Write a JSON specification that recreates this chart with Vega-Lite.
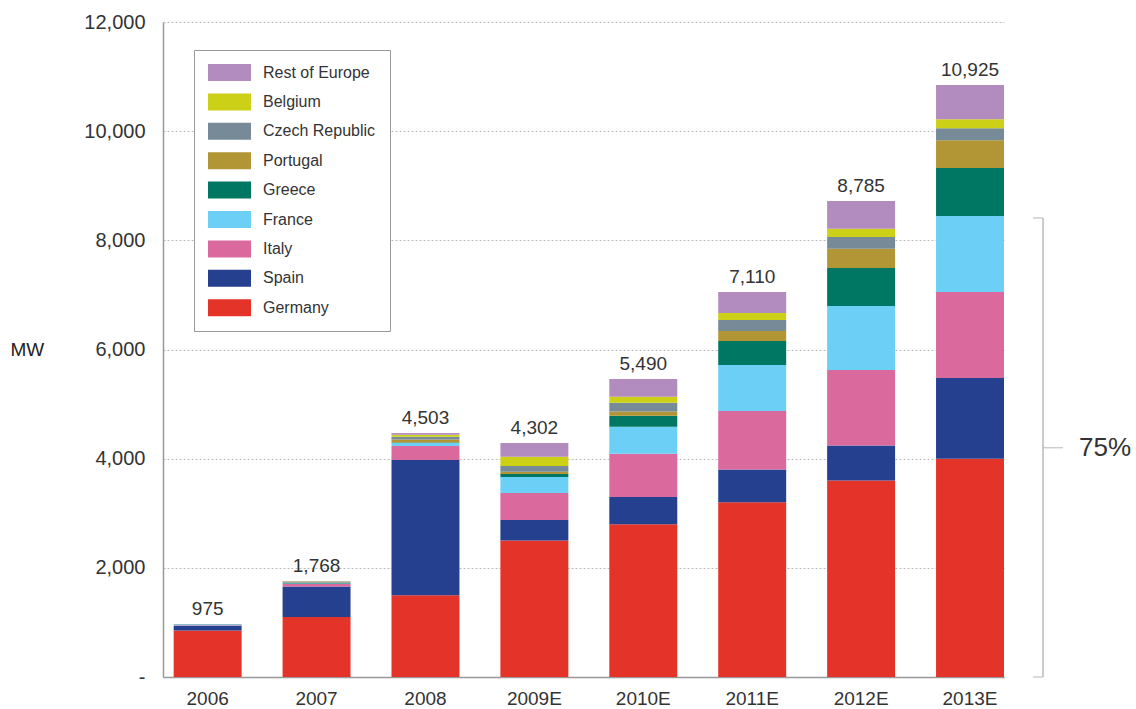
{
  "$schema": "https://vega.github.io/schema/vega-lite/v6.json",
  "width": 841,
  "height": 655,
  "autosize": {"type": "none"},
  "padding": {"left": 163, "top": 22, "right": 132, "bottom": 32},
  "background": "white",
  "config": {
    "view": {"stroke": null},
    "font": "Liberation Sans",
    "text": {"font": "Liberation Sans"}
  },
  "datasets": {
    "mw": [
      {"year": "2006", "country": "Germany", "mw": 850},
      {"year": "2006", "country": "Spain", "mw": 88},
      {"year": "2006", "country": "Italy", "mw": 10},
      {"year": "2006", "country": "France", "mw": 15},
      {"year": "2006", "country": "Greece", "mw": 2},
      {"year": "2006", "country": "Portugal", "mw": 0},
      {"year": "2006", "country": "Czech Republic", "mw": 0},
      {"year": "2006", "country": "Belgium", "mw": 2},
      {"year": "2006", "country": "Rest of Europe", "mw": 6},
      {"year": "2007", "country": "Germany", "mw": 1100},
      {"year": "2007", "country": "Spain", "mw": 560},
      {"year": "2007", "country": "Italy", "mw": 45},
      {"year": "2007", "country": "France", "mw": 10},
      {"year": "2007", "country": "Greece", "mw": 5},
      {"year": "2007", "country": "Portugal", "mw": 10},
      {"year": "2007", "country": "Czech Republic", "mw": 18},
      {"year": "2007", "country": "Belgium", "mw": 5},
      {"year": "2007", "country": "Rest of Europe", "mw": 6},
      {"year": "2008", "country": "Germany", "mw": 1500},
      {"year": "2008", "country": "Spain", "mw": 2475},
      {"year": "2008", "country": "Italy", "mw": 255},
      {"year": "2008", "country": "France", "mw": 55},
      {"year": "2008", "country": "Greece", "mw": 10},
      {"year": "2008", "country": "Portugal", "mw": 55},
      {"year": "2008", "country": "Czech Republic", "mw": 50},
      {"year": "2008", "country": "Belgium", "mw": 40},
      {"year": "2008", "country": "Rest of Europe", "mw": 32},
      {"year": "2009E", "country": "Germany", "mw": 2500},
      {"year": "2009E", "country": "Spain", "mw": 375},
      {"year": "2009E", "country": "Italy", "mw": 495},
      {"year": "2009E", "country": "France", "mw": 295},
      {"year": "2009E", "country": "Greece", "mw": 55},
      {"year": "2009E", "country": "Portugal", "mw": 40},
      {"year": "2009E", "country": "Czech Republic", "mw": 105},
      {"year": "2009E", "country": "Belgium", "mw": 170},
      {"year": "2009E", "country": "Rest of Europe", "mw": 252},
      {"year": "2010E", "country": "Germany", "mw": 2800},
      {"year": "2010E", "country": "Spain", "mw": 500},
      {"year": "2010E", "country": "Italy", "mw": 790},
      {"year": "2010E", "country": "France", "mw": 494},
      {"year": "2010E", "country": "Greece", "mw": 202},
      {"year": "2010E", "country": "Portugal", "mw": 79},
      {"year": "2010E", "country": "Czech Republic", "mw": 159},
      {"year": "2010E", "country": "Belgium", "mw": 110},
      {"year": "2010E", "country": "Rest of Europe", "mw": 326},
      {"year": "2011E", "country": "Germany", "mw": 3200},
      {"year": "2011E", "country": "Spain", "mw": 600},
      {"year": "2011E", "country": "Italy", "mw": 1075},
      {"year": "2011E", "country": "France", "mw": 840},
      {"year": "2011E", "country": "Greece", "mw": 440},
      {"year": "2011E", "country": "Portugal", "mw": 185},
      {"year": "2011E", "country": "Czech Republic", "mw": 200},
      {"year": "2011E", "country": "Belgium", "mw": 130},
      {"year": "2011E", "country": "Rest of Europe", "mw": 384},
      {"year": "2012E", "country": "Germany", "mw": 3600},
      {"year": "2012E", "country": "Spain", "mw": 640},
      {"year": "2012E", "country": "Italy", "mw": 1385},
      {"year": "2012E", "country": "France", "mw": 1170},
      {"year": "2012E", "country": "Greece", "mw": 700},
      {"year": "2012E", "country": "Portugal", "mw": 350},
      {"year": "2012E", "country": "Czech Republic", "mw": 215},
      {"year": "2012E", "country": "Belgium", "mw": 150},
      {"year": "2012E", "country": "Rest of Europe", "mw": 511},
      {"year": "2013E", "country": "Germany", "mw": 4000},
      {"year": "2013E", "country": "Spain", "mw": 1480},
      {"year": "2013E", "country": "Italy", "mw": 1575},
      {"year": "2013E", "country": "France", "mw": 1390},
      {"year": "2013E", "country": "Greece", "mw": 880},
      {"year": "2013E", "country": "Portugal", "mw": 510},
      {"year": "2013E", "country": "Czech Republic", "mw": 220},
      {"year": "2013E", "country": "Belgium", "mw": 165},
      {"year": "2013E", "country": "Rest of Europe", "mw": 626}
    ],
    "totals": [
      {"year": "2006", "total": 975},
      {"year": "2007", "total": 1768},
      {"year": "2008", "total": 4503},
      {"year": "2009E", "total": 4302},
      {"year": "2010E", "total": 5490},
      {"year": "2011E", "total": 7110},
      {"year": "2012E", "total": 8785},
      {"year": "2013E", "total": 10925}
    ],
    "bracket": [{"year": "2013E", "top": 8410, "bottom": 0}],
    "bracketEnds": [{"year": "2013E", "v": 8410}, {"year": "2013E", "v": 0}],
    "share": [{"year": "2013E", "v": 4200, "label": "75%"}]
  },
  "encoding": {
    "x": {
      "field": "year",
      "type": "nominal",
      "scale": {
        "domain": ["2006", "2007", "2008", "2009E", "2010E", "2011E", "2012E", "2013E"],
        "paddingInner": 0.376,
        "paddingOuter": 0.049,
        "align": 1
      },
      "axis": {
        "title": null,
        "labelAngle": 0,
        "labelFontSize": 19,
        "labelColor": "#333333",
        "labelPadding": 12,
        "ticks": false,
        "domainColor": "#999999",
        "domainWidth": 1.5
      }
    },
    "y": {
      "type": "quantitative",
      "scale": {"domain": [0, 12000], "nice": false},
      "axis": {
        "title": "MW",
        "titleAngle": 0,
        "titleAlign": "left",
        "titleBaseline": "middle",
        "titleX": -153,
        "titleY": 327,
        "titleFontSize": 19,
        "titleFontWeight": "normal",
        "titleColor": "#222222",
        "values": [0, 2000, 4000, 6000, 8000, 10000, 12000],
        "labelExpr": "datum.value == 0 ? '-' : format(datum.value, ',')",
        "labelFontSize": 20,
        "labelColor": "#333333",
        "labelPadding": 18,
        "ticks": false,
        "tickSize": 0,
        "domainColor": "#999999",
        "domainWidth": 1.5,
        "grid": true,
        "gridColor": "#bbbbbb",
        "gridDash": [2, 2],
        "gridWidth": 1
      }
    }
  },
  "layer": [
    {
      "data": {"name": "mw"},
      "transform": [
        {"calculate": "indexof(['Germany','Spain','Italy','France','Greece','Portugal','Czech Republic','Belgium','Rest of Europe'], datum.country)", "as": "stackKey"}
      ],
      "mark": {"type": "bar", "strokeWidth": 0},
      "encoding": {
        "y": {"field": "mw", "type": "quantitative", "aggregate": "sum", "stack": "zero"},
        "color": {
          "field": "country",
          "type": "nominal",
          "scale": {
            "domain": ["Rest of Europe", "Belgium", "Czech Republic", "Portugal", "Greece", "France", "Italy", "Spain", "Germany"],
            "range": ["#B28BBF", "#CCD117", "#768A97", "#B29534", "#007763", "#6BCFF6", "#DA6A9D", "#24408E", "#E43429"]
          },
          "legend": {
            "title": null,
            "orient": "none",
            "legendX": 31,
            "legendY": 28,
            "padding": 14,
            "strokeColor": "#999999",
            "fillColor": "white",
            "symbolType": "M-1,-1H4.06V1H-1Z",
            "symbolSize": 289,
            "symbolStrokeWidth": 0,
            "symbolOpacity": 1,
            "labelFontSize": 16,
            "labelColor": "#333333",
            "labelOffset": 38,
            "labelExpr": "datum.label + '\u00a0\u00a0\u00a0'",
            "rowPadding": 12.4
          }
        },
        "order": {"field": "stackKey", "type": "quantitative"}
      }
    },
    {
      "data": {"name": "mw"},
      "transform": [
        {"aggregate": [{"op": "sum", "field": "mw", "as": "top"}], "groupby": ["year"]},
        {"lookup": "year", "from": {"data": {"name": "totals"}, "key": "year", "fields": ["total"]}}
      ],
      "mark": {"type": "text", "baseline": "alphabetic", "dy": -9, "fontSize": 19, "color": "#333333"},
      "encoding": {
        "y": {"field": "top", "type": "quantitative"},
        "text": {"field": "total", "type": "quantitative", "format": ","}
      }
    },
    {
      "data": {"name": "bracket"},
      "mark": {"type": "rule", "color": "#aaaaaa", "strokeWidth": 1.2, "xOffset": 73},
      "encoding": {
        "y": {"field": "top", "type": "quantitative"},
        "y2": {"field": "bottom"}
      }
    },
    {
      "data": {"name": "bracketEnds"},
      "mark": {"type": "tick", "orient": "horizontal", "color": "#aaaaaa", "size": 10, "thickness": 1.2, "xOffset": 68},
      "encoding": {
        "y": {"field": "v", "type": "quantitative"}
      }
    },
    {
      "data": {"name": "share"},
      "mark": {"type": "tick", "orient": "horizontal", "color": "#aaaaaa", "size": 20, "thickness": 1.2, "xOffset": 83},
      "encoding": {
        "y": {"field": "v", "type": "quantitative"}
      }
    },
    {
      "data": {"name": "share"},
      "mark": {"type": "text", "align": "left", "baseline": "middle", "dx": 109, "fontSize": 26, "color": "#333333"},
      "encoding": {
        "y": {"field": "v", "type": "quantitative"},
        "text": {"field": "label", "type": "nominal"}
      }
    }
  ]
}
